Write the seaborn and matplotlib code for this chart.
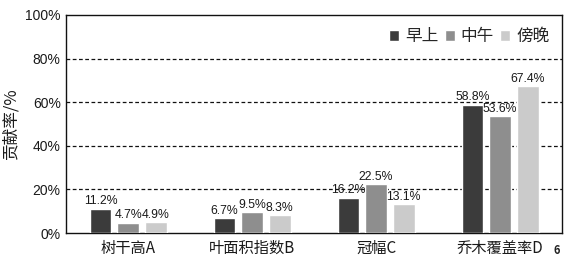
import matplotlib
matplotlib.use("Agg")
import matplotlib.pyplot as plt
import seaborn as sns
import pandas as pd

categories = ["树干高A", "叶面积指数B", "冠幅C", "乔木覆盖率D"]
series_names = ["早上", "中午", "傍晚"]
morning = [11.2, 6.7, 16.2, 58.8]
noon = [4.7, 9.5, 22.5, 53.6]
evening = [4.9, 8.3, 13.1, 67.4]
yticks = [0, 20, 40, 60, 80, 100]
ytick_labels = ["0%", "20%", "40%", "60%", "80%", "100%"]
colors = ["#3b3b3b", "#8e8e8e", "#cbcbcb"]

sns.set_theme(style="white")
plt.rcParams['font.family'] = ['Noto Sans CJK SC', 'DejaVu Sans']

rows = []
for name, vals in zip(series_names, [morning, noon, evening]):
    for c, v in zip(categories, vals):
        rows.append({"cat": c, "series": name, "value": v})
df = pd.DataFrame(rows)

fig = plt.figure(figsize=(5.66, 2.66), dpi=100)
ax = fig.add_axes([0.117, 0.124, 0.876, 0.82])

sns.barplot(data=df, x="cat", y="value", hue="series", order=categories,
            hue_order=series_names, palette=colors, width=0.67, gap=0.22,
            saturation=1, ax=ax, zorder=3)

for cont in ax.containers:
    labels = [f"{v:.1f}%" for v in cont.datavalues]
    ax.bar_label(cont, labels=labels, padding=1, fontsize=8.8, color="#1a1a1a",
                 family=["Liberation Sans", "DejaVu Sans"])

ax.set_ylim(0, 100)
ax.set_xlim(-0.5, 3.5)
ax.set_yticks(yticks)
ax.set_yticklabels(ytick_labels, fontsize=10, color="#1a1a1a",
                   family=["Liberation Sans", "DejaVu Sans"])
ax.tick_params(axis="x", labelsize=11, colors="#1a1a1a", length=0, pad=5)
ax.tick_params(axis="y", length=0, pad=4)
for y in yticks[1:-1]:
    ax.axhline(y, color="#111111", linestyle=(0, (3, 2)), linewidth=0.9, zorder=1)
ax.set_xlabel("")
ax.set_ylabel("贡献率/%", fontsize=12, color="#1a1a1a", labelpad=4)
for s in ax.spines.values():
    s.set_color("#111111")
    s.set_linewidth(1.0)
    s.set_visible(True)

leg = ax.legend(loc="upper right", bbox_to_anchor=(0.995, 0.985), ncol=3, frameon=True,
                fontsize=12, handlelength=0.6, handleheight=0.6, handletextpad=0.35,
                columnspacing=0.4, borderaxespad=0.2, edgecolor="white", framealpha=1,
                fancybox=False)

fig.text(0.983, 0.06, "6", fontsize=8, fontweight="bold", color="#222222",
         ha="center", va="center")

fig.savefig("out.png", dpi=100)
